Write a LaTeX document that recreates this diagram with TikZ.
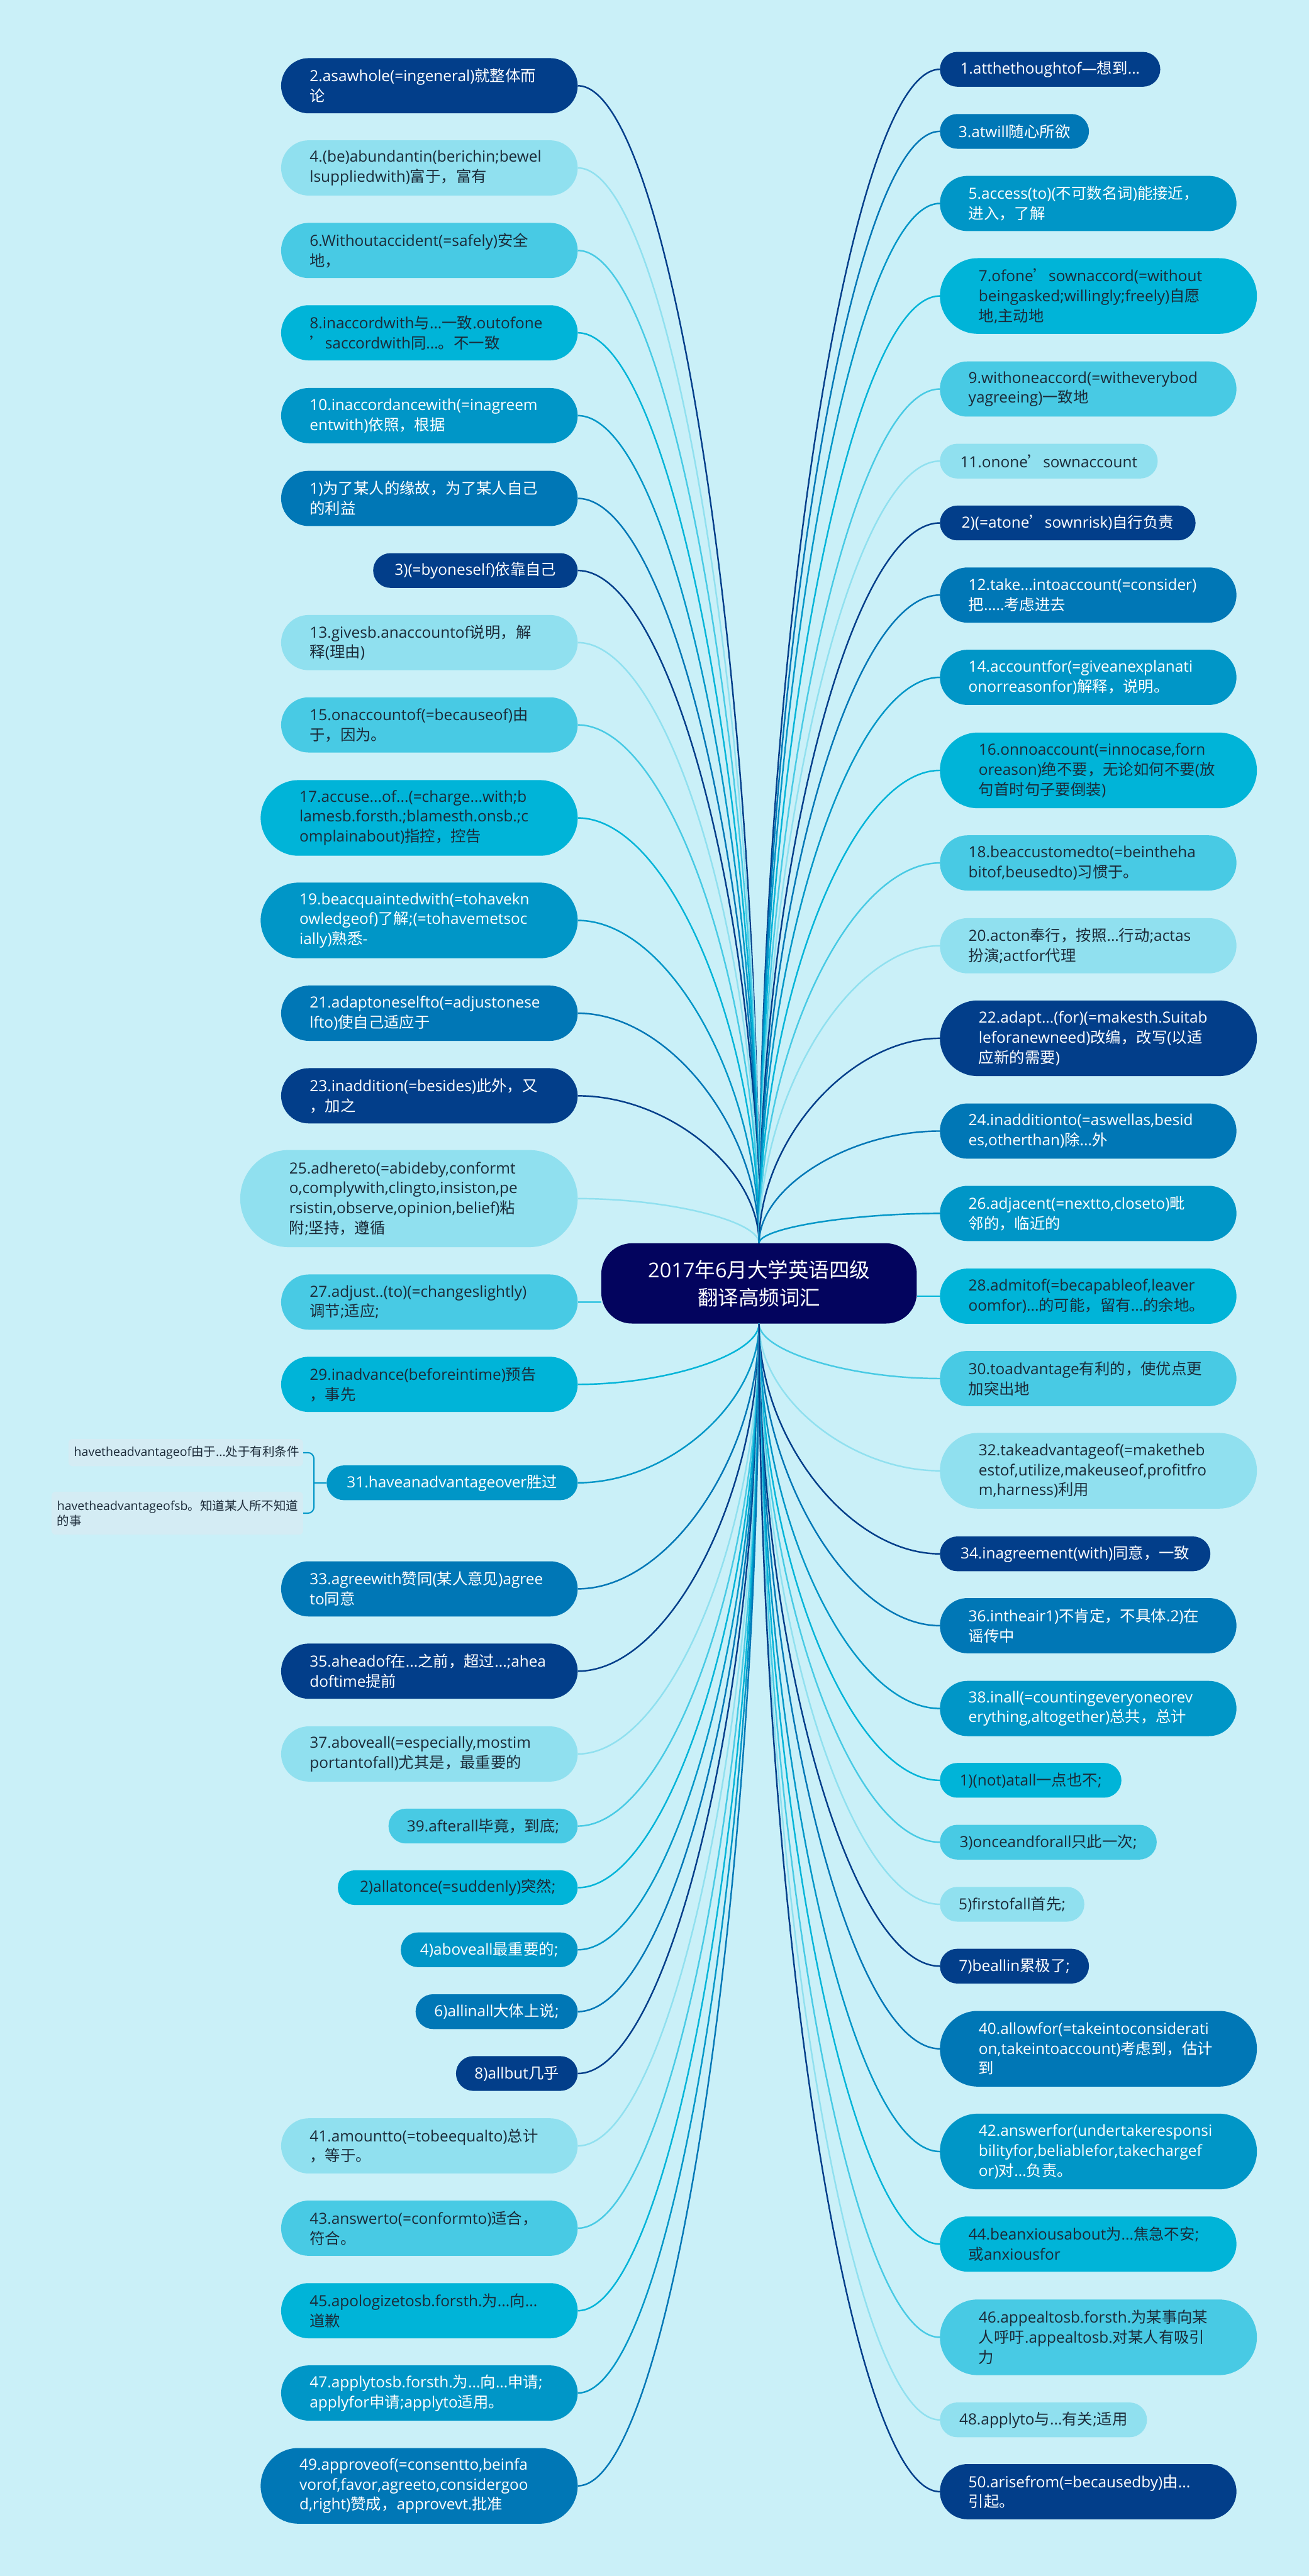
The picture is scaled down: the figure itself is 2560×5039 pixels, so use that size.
\documentclass[tikz,border=0pt]{standalone}
\usepackage{fontspec}
\setmainfont{Open Sans}
\newfontfamily\cjkf{Noto Sans CJK SC}
\usetikzlibrary{calc}
\XeTeXinterchartokenstate=1
\newXeTeXintercharclass\CJKcls
\newcount\cjkcc
\cjkcc="2E80
\loop\XeTeXcharclass\cjkcc=\CJKcls\advance\cjkcc by 1\relax\ifnum\cjkcc<"A000 \repeat
\cjkcc="FF00
\loop\XeTeXcharclass\cjkcc=\CJKcls\advance\cjkcc by 1\relax\ifnum\cjkcc<"FFF0 \repeat
\XeTeXcharclass"2018=\CJKcls
\XeTeXcharclass"2019=\CJKcls
\XeTeXcharclass"201C=\CJKcls
\XeTeXcharclass"201D=\CJKcls
\XeTeXcharclass"2014=0
\XeTeXcharclass"2026=0
\XeTeXinterchartoks 0 \CJKcls = {\cjkf}
\XeTeXinterchartoks 4095 \CJKcls = {\cjkf}
\XeTeXinterchartoks \CJKcls 0 = {\rmfamily}
\XeTeXinterchartoks 4095 0 = {\rmfamily}
\definecolor{C0}{HTML}{03045E}
\definecolor{C1}{HTML}{023E8A}
\definecolor{C2}{HTML}{0077B6}
\definecolor{C3}{HTML}{0096C7}
\definecolor{C4}{HTML}{00B4D8}
\definecolor{C5}{HTML}{48CAE4}
\definecolor{C6}{HTML}{90E0EF}
\definecolor{BG}{HTML}{CAF0F8}
\definecolor{TX}{HTML}{1B2A38}
\definecolor{SUB}{HTML}{D4ECF4}
\newcommand\lnk[3]{\draw[#1] (#2) .. controls ($(#2)!0.5!(#2 |- #3)$) and ($(#3)!0.5!(#2 |- #3)$) .. (#3);}
\begin{document}
\begin{tikzpicture}[x=1pt,y=-1pt,
  nd/.style={rectangle, inner ysep=0pt, font=\fontsize{30}{39}\selectfont, align=left, text width=468pt},
  L1/.style={minimum height=68pt, inner xsep=36pt, rounded corners=34pt, align=center},
  L2/.style={minimum height=108pt, inner xsep=56pt, rounded corners=54pt},
  L3/.style={minimum height=148pt, inner xsep=76pt, rounded corners=74pt},
  L4/.style={minimum height=190pt, inner xsep=96pt, rounded corners=95pt},
  k1/.style={fill=C1, text=white},
  k2/.style={fill=C2, text=white},
  k3/.style={fill=C3, text=white},
  k4/.style={fill=C4, text=TX},
  k5/.style={fill=C5, text=TX},
  k6/.style={fill=C6, text=TX},
  lt/.style={nd, anchor=east},
  rt/.style={nd, anchor=west},
  e1/.style={draw=C1, line width=3pt},
  e2/.style={draw=C2, line width=3pt},
  e3/.style={draw=C3, line width=3pt},
  e4/.style={draw=C4, line width=3pt},
  e5/.style={draw=C5, line width=3pt},
  e6/.style={draw=C6, line width=3pt},
  sub/.style={fill=SUB, text=TX, rounded corners=8pt, inner xsep=11pt, inner ysep=0pt, align=left, font=\fontsize{24}{30}\selectfont, anchor=east},
  centre/.style={fill=C0, text=white, minimum width=617pt, minimum height=157pt, rounded corners=60pt, align=center, font=\fontsize{40}{54}\selectfont}
]
\fill[BG] (0,0) rectangle (2560,5039);
\useasboundingbox (0,0) rectangle (2560,5039);

\node[centre] (C) at (1484.5,2510.5) {2017年6月大学英语四级\\翻译高频词汇};

% left column
\node[lt,L2,k1] (L01) at (1130,167.7) {2.asawhole(=ingeneral)就整体而\\论};
\node[lt,L2,k6] (L02) at (1130,328.5) {4.(be)abundantin(berichin;bewel\\lsuppliedwith)富于，富有};
\node[lt,L2,k5] (L03) at (1130,490) {6.Withoutaccident(=safely)安全\\地，};
\node[lt,L2,k4] (L04) at (1130,651) {8.inaccordwith与...一致.outofone\\’saccordwith同...。不一致};
\node[lt,L2,k3] (L05) at (1130,813) {10.inaccordancewith(=inagreem\\entwith)依照，根据};
\node[lt,L2,k2] (L06) at (1130,975) {1)为了某人的缘故，为了某人自己\\的利益};
\node[lt,L1,k1,text width=328pt] (L07) at (1130,1116) {3)(=byoneself)依靠自己};
\node[lt,L2,k6] (L08) at (1130,1257) {13.givesb.anaccountof说明，解\\释(理由)};
\node[lt,L2,k5] (L09) at (1130,1418) {15.onaccountof(=becauseof)由\\于，因为。};
\node[lt,L3,k4] (L10) at (1130,1600) {17.accuse...of...(=charge...with;b\\lamesb.forsth.;blamesth.onsb.;c\\omplainabout)指控，控告};
\node[lt,L3,k3] (L11) at (1130,1800.5) {19.beacquaintedwith(=tohavekn\\owledgeof)了解;(=tohavemetsoc\\ially)熟悉-};
\node[lt,L2,k2] (L12) at (1130,1982) {21.adaptoneselfto(=adjustonese\\lfto)使自己适应于};
\node[lt,L2,k1] (L13) at (1130,2143.5) {23.inaddition(=besides)此外，又\\，加之};
\node[lt,L4,k6] (L14) at (1130,2344.6) {25.adhereto(=abideby,conformt\\o,complywith,clingto,insiston,pe\\rsistin,observe,opinion,belief)粘\\附;坚持，遵循};
\node[lt,L2,k5] (L15) at (1130,2547) {27.adjust..(to)(=changeslightly)\\调节;适应;};
\node[lt,L2,k4] (L16) at (1130,2708) {29.inadvance(beforeintime)预告\\，事先};
\node[lt,L1,k3,text width=419pt] (L17) at (1130,2900.5) {31.haveanadvantageover胜过};
\node[lt,L2,k2] (L18) at (1130,3108) {33.agreewith赞同(某人意见)agree\\to同意};
\node[lt,L2,k1] (L19) at (1130,3269) {35.aheadof在...之前，超过...;ahea\\doftime提前};
\node[lt,L2,k6] (L20) at (1130,3431) {37.aboveall(=especially,mostim\\portantofall)尤其是，最重要的};
\node[lt,L1,k5,text width=298pt] (L21) at (1130,3572) {39.afterall毕竟，到底;};
\node[lt,L1,k4,text width=397pt] (L22) at (1130,3692.5) {2)allatonce(=suddenly)突然;};
\node[lt,L1,k3,text width=274pt] (L23) at (1130,3814) {4)aboveall最重要的;};
\node[lt,L1,k2,text width=245pt] (L24) at (1130,3935) {6)allinall大体上说;};
\node[lt,L1,k1,text width=166pt] (L25) at (1130,4056) {8)allbut几乎};
\node[lt,L2,k6] (L26) at (1130,4197.6) {41.amountto(=tobeequalto)总计\\，等于。};
\node[lt,L2,k5] (L27) at (1130,4358.6) {43.answerto(=conformto)适合，\\符合。};
\node[lt,L2,k4] (L28) at (1130,4520) {45.apologizetosb.forsth.为...向...\\道歉};
\node[lt,L2,k3] (L29) at (1130,4681) {47.applytosb.forsth.为...向...申请;\\applyfor申请;applyto适用。};
\node[lt,L3,k2] (L30) at (1130,4862.6) {49.approveof(=consentto,beinfa\\vorof,favor,agreeto,considergoo\\d,right)赞成，approvevt.批准};

% sub nodes of 31
\node[sub, text width=437pt, minimum height=53pt] (S1) at (593,2841.5) {havetheadvantageof由于...处于有利条件};
\node[sub, text width=470pt, minimum height=84pt] (S2) at (593,2960) {havetheadvantageofsb。知道某人所不知道\\的事};
\coordinate (BR) at (614,2900.5);
\draw[e3, line width=2.5pt, rounded corners=12pt] (S1.east) -| (BR) |- (S2.east);
\draw[e3, line width=2.5pt] (L17.west) -- (BR);

% right column
\node[rt,L1,k1,text width=359pt] (R01) at (1838,135.6) {1.atthethoughtof—想到...};
\node[rt,L1,k2,text width=219.5pt] (R02) at (1838,257) {3.atwill随心所欲};
\node[rt,L2,k3] (R03) at (1838,398) {5.access(to)(不可数名词)能接近，\\进入，了解};
\node[rt,L3,k4] (R04) at (1838,579) {7.ofone’sownaccord(=without\\beingasked;willingly;freely)自愿\\地,主动地};
\node[rt,L2,k5] (R05) at (1838,761) {9.withoneaccord(=witheverybod\\yagreeing)一致地};
\node[rt,L1,k6,text width=354pt] (R06) at (1838,902) {11.onone’sownaccount};
\node[rt,L1,k1,text width=428pt] (R07) at (1838,1023) {2)(=atone’sownrisk)自行负责};
\node[rt,L2,k2] (R08) at (1838,1164) {12.take...intoaccount(=consider)\\把.....考虑进去};
\node[rt,L2,k3] (R09) at (1838,1325) {14.accountfor(=giveanexplanati\\onorreasonfor)解释，说明。};
\node[rt,L3,k4] (R10) at (1838,1507) {16.onnoaccount(=innocase,forn\\oreason)绝不要，无论如何不要(放\\句首时句子要倒装)};
\node[rt,L2,k5] (R11) at (1838,1688) {18.beaccustomedto(=beintheha\\bitof,beusedto)习惯于。};
\node[rt,L2,k6] (R12) at (1838,1850) {20.acton奉行，按照...行动;actas\\扮演;actfor代理};
\node[rt,L3,k1] (R13) at (1838,2031) {22.adapt...(for)(=makesth.Suitab\\leforanewneed)改编，改写(以适\\应新的需要)};
\node[rt,L2,k2] (R14) at (1838,2212.5) {24.inadditionto(=aswellas,besid\\es,otherthan)除...外};
\node[rt,L2,k3] (R15) at (1838,2373.6) {26.adjacent(=nextto,closeto)毗\\邻的，临近的};
\node[rt,L2,k4] (R16) at (1838,2535.5) {28.admitof(=becapableof,leaver\\oomfor)...的可能，留有...的余地。};
\node[rt,L2,k5] (R17) at (1838,2696.6) {30.toadvantage有利的，使优点更\\加突出地};
\node[rt,L3,k6] (R18) at (1838,2877) {32.takeadvantageof(=maketheb\\estof,utilize,makeuseof,profitfro\\m,harness)利用};
\node[rt,L1,k1,text width=457pt] (R19) at (1838,3039.5) {34.inagreement(with)同意，一致};
\node[rt,L2,k2] (R20) at (1838,3180) {36.intheair1)不肯定，不具体.2)在\\谣传中};
\node[rt,L2,k3] (R21) at (1838,3342) {38.inall(=countingeveryoneorev\\erything,altogether)总共，总计};
\node[rt,L1,k4,text width=283pt] (R22) at (1838,3482.5) {1)(not)atall一点也不;};
\node[rt,L1,k5,text width=352pt] (R23) at (1838,3603.5) {3)onceandforall只此一次;};
\node[rt,L1,k6,text width=210.5pt] (R24) at (1838,3725) {5)firstofall首先;};
\node[rt,L1,k1,text width=219.5pt] (R25) at (1838,3846) {7)beallin累极了;};
\node[rt,L3,k2] (R26) at (1838,4007.6) {40.allowfor(=takeintoconsiderati\\on,takeintoaccount)考虑到，估计\\到};
\node[rt,L3,k3] (R27) at (1838,4208.6) {42.answerfor(undertakeresponsi\\bilityfor,beliablefor,takechargef\\or)对...负责。};
\node[rt,L2,k4] (R28) at (1838,4389.6) {44.beanxiousabout为...焦急不安;\\或anxiousfor};
\node[rt,L3,k5] (R29) at (1838,4572) {46.appealtosb.forsth.为某事向某\\人呼吁.appealtosb.对某人有吸引\\力};
\node[rt,L1,k6,text width=333pt] (R30) at (1838,4733.5) {48.applyto与...有关;适用};
\node[rt,L2,k1] (R31) at (1838,4874) {50.arisefrom(=becausedby)由...\\引起。};

% connectors
\foreach \n/\e in {L01/e1,L02/e6,L03/e5,L04/e4,L05/e3,L06/e2,L07/e1,L08/e6,L09/e5,L10/e4,L11/e3,L12/e2,L13/e1,L14/e6}
  {\lnk{\e}{C.north}{\n.east}}
\foreach \n/\e in {R01/e1,R02/e2,R03/e3,R04/e4,R05/e5,R06/e6,R07/e1,R08/e2,R09/e3,R10/e4,R11/e5,R12/e6,R13/e1,R14/e2,R15/e3}
  {\lnk{\e}{C.north}{\n.west}}
\foreach \n/\e in {L16/e4,L17/e3,L18/e2,L19/e1,L20/e6,L21/e5,L22/e4,L23/e3,L24/e2,L25/e1,L26/e6,L27/e5,L28/e4,L29/e3,L30/e2}
  {\lnk{\e}{C.south}{\n.east}}
\foreach \n/\e in {R17/e5,R18/e6,R19/e1,R20/e2,R21/e3,R22/e4,R23/e5,R24/e6,R25/e1,R26/e2,R27/e3,R28/e4,R29/e5,R30/e6,R31/e1}
  {\lnk{\e}{C.south}{\n.west}}
\draw[e5] (L15.east) -- (L15.east -| C.west);
\draw[e4] (C.east |- R16.west) -- (R16.west);
\end{tikzpicture}
\end{document}
